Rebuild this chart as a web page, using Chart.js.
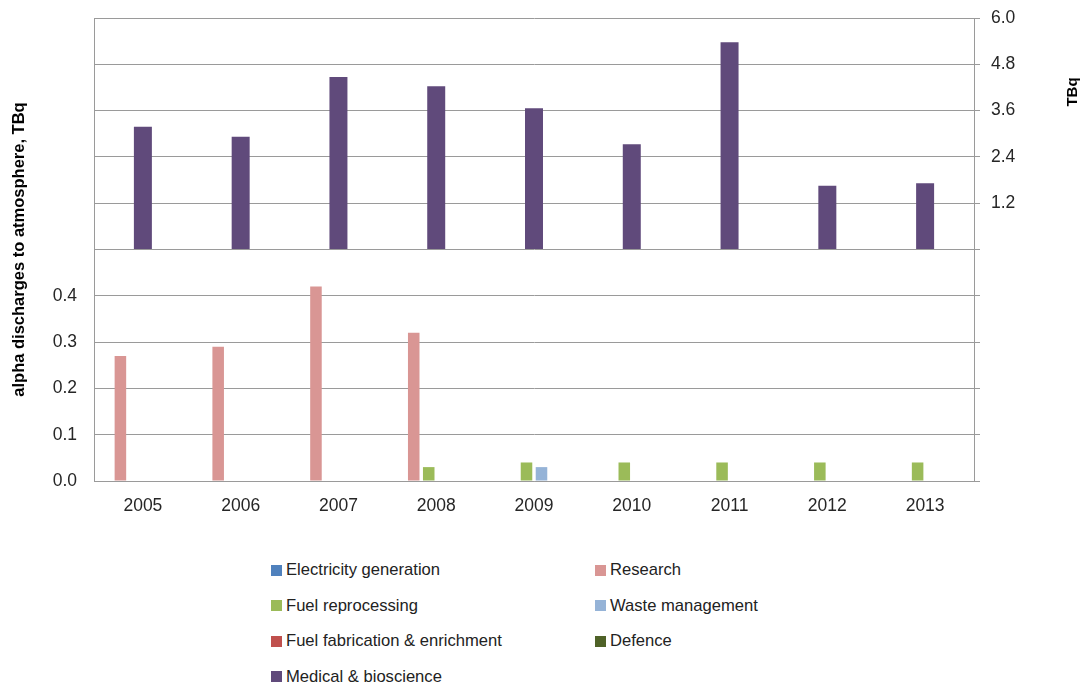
<!DOCTYPE html>
<html>
<head>
<meta charset="utf-8">
<script src="https://cdn.jsdelivr.net/npm/chart.js@4"></script>
<style>
  body { margin: 0; background: #fff; font-family: "Liberation Sans", Arial, sans-serif; }
  #wrap { position: relative; width: 1086px; height: 689px; }
  #box { position: absolute; left: 0; top: 0; width: 1086px; height: 540px; }
  .item { position: absolute; display: flex; align-items: center; font-size: 16.6px; color: #222; white-space: nowrap; height: 20px; }
  .item span { display: inline-block; width: 11px; height: 11px; margin-right: 4px; }
</style>
</head>
<body>
<div id="wrap">
  <div id="box"><canvas id="myChart"></canvas></div>
  <div id="legend"></div>
</div>
<script>
const years = ['2005', '2006', '2007', '2008', '2009', '2010', '2011', '2012', '2013'];

// left axis, TBq
const electricity = [0, 0, 0, 0, 0, 0, 0, 0, 0];
const research = [0.27, 0.29, 0.42, 0.32, 0, 0, 0, 0, 0];
const fuelReprocessing = [0, 0, 0, 0.03, 0.04, 0.04, 0.04, 0.04, 0.04];
const wasteManagement = [0, 0, 0, 0, 0.03, 0, 0, 0, 0];
const fuelFabrication = [0, 0, 0, 0, 0, 0, 0, 0, 0];
const defence = [0, 0, 0, 0, 0, 0, 0, 0, 0];

// right axis, TBq
const medical = [3.18, 2.92, 4.47, 4.23, 3.66, 2.73, 5.37, 1.65, 1.72];

const gridColor = '#9a9a9a';
const textColor = '#262626';

Chart.defaults.font.family = '"Liberation Sans", Arial, sans-serif';
Chart.defaults.color = textColor;

const primary = [
  { label: 'Electricity generation', data: electricity, color: '#4F81BD' },
  { label: 'Research', data: research, color: '#D99694' },
  { label: 'Fuel reprocessing', data: fuelReprocessing, color: '#9BBB59' },
  { label: 'Waste management', data: wasteManagement, color: '#95B3D7' },
  { label: 'Fuel fabrication & enrichment', data: fuelFabrication, color: '#C0504D' },
  { label: 'Defence', data: defence, color: '#4F6228' }
];

const datasets = primary.map(s => ({
  label: s.label,
  data: s.data,
  backgroundColor: s.color,
  yAxisID: 'y',
  categoryPercentage: 0.92,
  barPercentage: 0.77
}));
// medical sits on its own axis, centred on the year, not in the group
datasets.push({
  label: 'Medical & bioscience',
  data: medical,
  backgroundColor: '#604A7B',
  yAxisID: 'y2',
  grouped: false,
  categoryPercentage: 1,
  barPercentage: 0.184
});

// right axis title reads bottom-to-top, so draw it ourselves
const rightTitle = {
  id: 'rightTitle',
  afterDraw(chart) {
    const c = chart.ctx;
    c.save();
    c.translate(1073, 92);
    c.rotate(-Math.PI / 2);
    c.font = 'bold 15px "Liberation Sans", Arial, sans-serif';
    c.fillStyle = '#000';
    c.textAlign = 'center';
    c.textBaseline = 'middle';
    c.fillText('TBq', 0, 0);
    c.restore();
  }
};

// fixed axis sizes so the plot lands where the original has it
function fixY(width) {
  return s => {
    s.width = width;
    s.paddingTop = 0;
    s.paddingBottom = 0;
  };
}

const ctx = document.getElementById('myChart').getContext('2d');
const chart = new Chart(ctx, {
  type: 'bar',
  data: { labels: years, datasets: datasets },
  plugins: [rightTitle],
  options: {
    responsive: true,
    maintainAspectRatio: false,
    animation: false,
    layout: { padding: { top: 18, left: 0, right: 0, bottom: 0 } },
    plugins: { legend: { display: false }, tooltip: { enabled: false } },
    scales: {
      x: {
        offset: true,
        grid: { display: false, drawTicks: false },
        border: { display: true, color: gridColor },
        ticks: { padding: 15, font: { size: 17.5 }, color: textColor },
        afterFit: s => { s.height = 540 - 481; }
      },
      y: {
        position: 'left',
        min: 0,
        max: 1,
        ticks: {
          stepSize: 0.1,
          padding: 17,
          font: { size: 17.5 },
          color: textColor,
          callback: v => v < 0.45 ? v.toFixed(1) : ''
        },
        grid: { color: gridColor, drawTicks: false },
        border: { color: gridColor },
        title: {
          display: true,
          text: 'alpha discharges to atmosphere, TBq',
          font: { size: 16.5, weight: 'bold' },
          color: '#000',
          padding: { top: 10, bottom: 0 }
        },
        afterFit: fixY(94)
      },
      y2: {
        position: 'right',
        min: -6,
        max: 6,
        ticks: {
          stepSize: 1.2,
          padding: 11,
          font: { size: 17.5 },
          color: textColor,
          callback: v => v > 0.1 ? v.toFixed(1) : ''
        },
        grid: { drawOnChartArea: false, color: gridColor, tickLength: 6 },
        border: { color: gridColor },
        afterFit: fixY(1086 - 974)
      }
    }
  }
});

// two-column legend under the chart
const legend = document.getElementById('legend');
chart.data.datasets.forEach((ds, i) => {
  const col = i % 2;
  const row = Math.floor(i / 2);
  const item = document.createElement('div');
  item.className = 'item';
  item.style.left = (col === 0 ? 271 : 595) + 'px';
  item.style.top = (560 + row * 35.5) + 'px';
  const sw = document.createElement('span');
  sw.style.background = ds.backgroundColor;
  item.appendChild(sw);
  item.appendChild(document.createTextNode(ds.label));
  legend.appendChild(item);
});
</script>
</body>
</html>
